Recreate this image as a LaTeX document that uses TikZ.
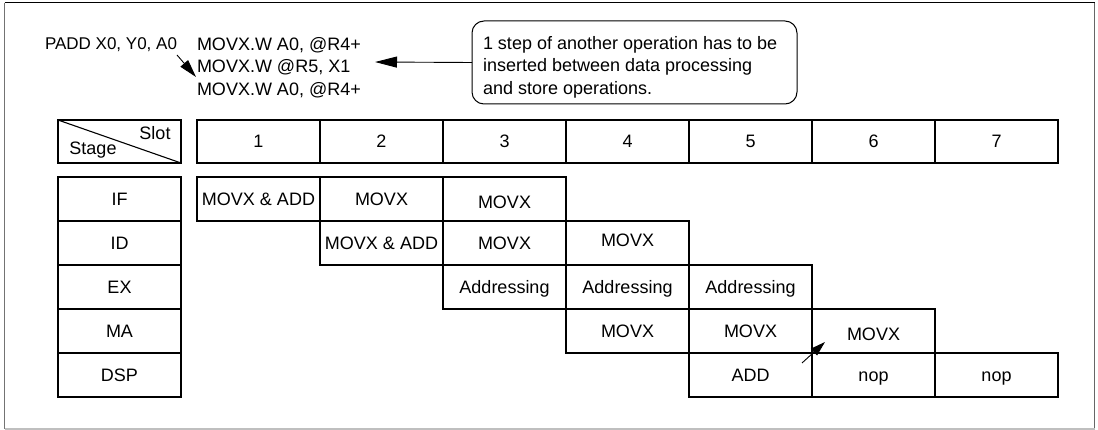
\documentclass[tikz,border=0pt]{standalone}
\usepackage{fontspec}
\setmainfont{Liberation Sans}
\usetikzlibrary{arrows.meta}
\begin{document}
\begin{tikzpicture}[x=1pt,y=-1pt,
  every node/.style={font=\fontsize{18pt}{22.5pt}\selectfont, inner sep=0pt, outer sep=0pt},
  cell/.style={draw, line width=1.1pt, minimum width=123pt, minimum height=44pt, text height=13pt, text depth=0pt},
  hcell/.style={cell, minimum height=43pt},
  lbl/.style={text height=13pt, text depth=0pt},
  arr/.style={line width=0.9pt, -{Triangle[length=18pt,width=10pt]}},
  longarr/.style={line width=0.9pt, -{Triangle[length=22pt,width=11pt]}},
  callbox/.style={draw, line width=1pt, rounded corners=12pt, minimum width=325pt, minimum height=83pt},
]
\useasboundingbox (0,0) rectangle (1098,430);
% outer frame
\draw[line width=1pt, black] (4.5,3) -- (1094.5,3);
\draw[line width=1.5pt, black!55] (4.7,3) -- (4.7,429);
\draw[line width=1.5pt, black!60] (1094.5,3) -- (1094.5,429);
\draw[line width=1.2pt, black!25] (4.7,429) -- (1094.5,429);

% top texts
\node[anchor=base west, font=\fontsize{17pt}{22.5pt}\selectfont] (padd) at (45,50) {PADD X0, Y0, A0};
\node[anchor=north west, align=left] (movx) at (197,37) {MOVX.W A0, @R4+\\MOVX.W @R5, X1\\MOVX.W A0, @R4+};
\node[callbox] (callout) at (634.5,62.5) {};
\node[anchor=north west, align=left] (calltext) at (483,36) {1 step of another operation has to be\\inserted between data processing\\and store operations.};
\coordinate (tipA) at (375,62);
\draw[longarr] (callout.west) -- (tipA);
\coordinate (dA) at (177,55);
\coordinate (dB) at (196,77);
\draw[arr] (dA) -- (dB);

% header row
\node[hcell] (hdr) at (119.5,141.5) {};
\draw[line width=1.1pt] (hdr.north west) -- (hdr.south east);
\node[lbl] (slotlbl) at (155,133) {Slot};
\node[lbl] (stagelbl) at (93,148) {Stage};
\foreach \i in {1,...,7}{
  \node[hcell] (s\i) at ({258.5+123*(\i-1)},141.5) {\i};
}

% stage column
\node[cell] (IF)  at (119.5,199) {IF};
\node[cell] (ID)  at (119.5,243) {ID};
\node[cell] (EX)  at (119.5,287) {EX};
\node[cell] (MA)  at (119.5,331) {MA};
\node[cell] (DSP) at (119.5,375) {DSP};

% IF row
\node[cell] (if1) at (258.5,199) {MOVX \& ADD};
\node[cell] (if2) at (381.5,199) {MOVX};
\node[cell] (if3) at (504.5,199) {\raisebox{-3pt}{MOVX}};
% ID row
\node[cell] (id2) at (381.5,243) {MOVX \& ADD};
\node[cell] (id3) at (504.5,243) {MOVX};
\node[cell] (id4) at (627.5,243) {\raisebox{3pt}{MOVX}};
% EX row
\node[cell] (ex3) at (504.5,287) {Addressing};
\node[cell] (ex4) at (627.5,287) {Addressing};
\node[cell] (ex5) at (750.5,287) {Addressing};
% MA row
\node[cell] (ma4) at (627.5,331) {MOVX};
\node[cell] (ma5) at (750.5,331) {MOVX};
\node[cell] (ma6) at (873.5,331) {\raisebox{-3pt}{MOVX}};
% DSP row
\node[cell] (dsp5) at (750.5,375) {ADD};
\node[cell] (dsp6) at (873.5,375) {nop};
\node[cell] (dsp7) at (996.5,375) {nop};

% forwarding arrow
\coordinate (fA) at (802,363);
\coordinate (fB) at (825,342);
\draw[line width=0.9pt, -{Triangle[length=15pt,width=9pt]}] (fA) -- (fB);
\end{tikzpicture}
\end{document}
